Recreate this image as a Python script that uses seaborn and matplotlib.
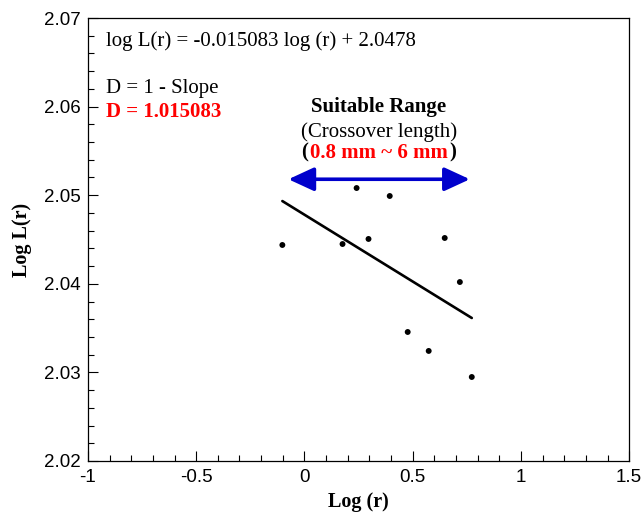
import numpy as np
import pandas as pd
import matplotlib
matplotlib.use("Agg")
import matplotlib.pyplot as plt
import seaborn as sns
from matplotlib.ticker import MultipleLocator
from matplotlib.offsetbox import TextArea, HPacker, AnnotationBbox

# Data
log_r = [-0.102, 0.176, 0.296, 0.241, 0.394, 0.648, 0.718, 0.477, 0.574, 0.773]
log_L = [2.04438, 2.04449, 2.04506, 2.05081, 2.04991, 2.04517, 2.0402, 2.03456, 2.03242, 2.02948]
slope = -0.015083
intercept = 2.0478
range_lo, range_hi = -0.074, 0.764   # arrow for the suitable range

sns.set_theme(style="ticks")
plt.rcParams["font.family"] = ["Liberation Sans", "DejaVu Sans"]
plt.rcParams["text.color"] = "black"
plt.rcParams["axes.labelcolor"] = "black"
plt.rcParams["xtick.color"] = "black"
plt.rcParams["ytick.color"] = "black"
SERIF = ["Liberation Serif", "DejaVu Serif"]
FS = 15

df = pd.DataFrame({"log_r": log_r, "log_L": log_L})
fit_x = np.array([min(log_r), max(log_r)])
fit = pd.DataFrame({"x": fit_x, "y": slope * fit_x + intercept})

fig = plt.figure(figsize=(6.42, 5.13), dpi=100)
ax = fig.add_axes([0.137, 0.1014, 0.843, 0.8635])

sns.lineplot(data=fit, x="x", y="y", color="black", linewidth=1.9, ax=ax)
sns.scatterplot(data=df, x="log_r", y="log_L", color="black", s=18,
                edgecolor="none", ax=ax, zorder=3)

ax.set_xlim(-1, 1.5)
ax.set_ylim(2.02, 2.07)
ax.xaxis.set_major_locator(MultipleLocator(0.5))
ax.xaxis.set_minor_locator(MultipleLocator(0.1))
ax.yaxis.set_major_locator(MultipleLocator(0.01))
ax.yaxis.set_minor_locator(MultipleLocator(0.002))
ax.xaxis.set_major_formatter(plt.FuncFormatter(lambda v, p: f"{v:g}"))
ax.yaxis.set_major_formatter(plt.FuncFormatter(lambda v, p: f"{v:.2f}"))
ax.tick_params(which="both", direction="in", top=False, right=False,
               labelsize=13.5, color="black", width=0.8)
ax.tick_params(which="major", length=7)
ax.tick_params(which="minor", length=4)
ax.tick_params(axis="x", which="major", pad=6)
ax.tick_params(axis="y", which="major", pad=5)
for sp in ax.spines.values():
    sp.set_linewidth(0.9)
    sp.set_color("black")
    sp.set_visible(True)

ax.set_xlabel("Log (r)", family=SERIF, fontweight="bold", fontsize=14.5, labelpad=4)
ax.set_ylabel("Log L(r)", family=SERIF, fontweight="bold", fontsize=14.5, labelpad=9)

ax.text(-0.917, 2.0674, "log L(r) = -0.015083 log (r) + 2.0478",
        family=SERIF, fontsize=FS, va="center", ha="left")
ax.text(-0.917, 2.0620, "D = 1 - Slope", family=SERIF, fontsize=FS,
        va="center", ha="left")
ax.text(-0.917, 2.0594, "D = 1.015083", family=SERIF, fontsize=FS,
        va="center", ha="left", color="red", fontweight="bold")

ax.text(0.343, 2.0600, "Suitable Range", family=SERIF, fontsize=FS,
        fontweight="bold", va="center", ha="center")
ax.text(0.343, 2.0571, "(Crossover length)", family=SERIF, fontsize=FS,
        va="center", ha="center")

# "(0.8 mm ~ 6 mm)" with black brackets and red inner text
bold = dict(family=SERIF, fontsize=FS, fontweight="bold")
parts = [TextArea("(", textprops=dict(color="black", **bold)),
         TextArea("0.8 mm ~ 6 mm", textprops=dict(color="red", **bold)),
         TextArea(")", textprops=dict(color="black", **bold))]
pack = HPacker(children=parts, align="baseline", pad=0, sep=1)
ax.add_artist(AnnotationBbox(pack, (0.343, 2.0548), frameon=False,
                             box_alignment=(0.5, 0.5), pad=0))

ax.annotate("", xy=(range_hi, 2.0518), xytext=(range_lo, 2.0518),
            arrowprops=dict(arrowstyle="<|-|>,head_length=1.3,head_width=0.6",
                            color="#0000cc", lw=2.6, shrinkA=0, shrinkB=0))

fig.savefig("out.png", dpi=100)
